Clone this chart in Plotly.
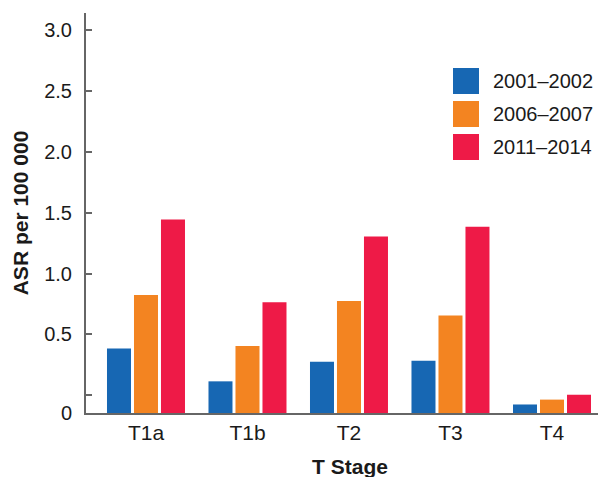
import plotly.graph_objects as go

# ---- data ----
stages = ["T1a", "T1b", "T2", "T3", "T4"]
series_names = ["2001\u20132002", "2006\u20132007", "2011\u20132014"]
asr_2001_2002 = [0.53, 0.26, 0.42, 0.43, 0.07]
asr_2006_2007 = [0.97, 0.55, 0.92, 0.80, 0.11]
asr_2011_2014 = [1.59, 0.91, 1.45, 1.53, 0.15]
series_values = [asr_2001_2002, asr_2006_2007, asr_2011_2014]
colors = ["#1767B3", "#F38421", "#EE1A47"]
tick_labels = ["0.5", "1.0", "1.5", "2.0", "2.5", "3.0"]

# page body has an 8px margin, so figure coords = screen coords - 8
W, H = 606, 477
ML, MR, MT, MB = 78, 0, 5, 72
PW, PH = W - ML - MR, H - MT - MB
Y_TOP = 3.285
OFFSET = 0.145  # shift of the labelled scale above the baseline (as in the original)

fig = go.Figure()
for name, vals, col in zip(series_names, series_values, colors):
    fig.add_trace(go.Bar(x=stages, y=vals, name=name, marker=dict(color=col, line=dict(width=0)),
                         showlegend=False))

tickvals = [0, OFFSET] + [OFFSET + 0.5 * (i + 1) for i in range(len(tick_labels))]
ticktext = ["0", ""] + tick_labels

font = "Liberation Sans, Arial, Helvetica, sans-serif"

fig.update_layout(
    width=W, height=H,
    margin=dict(l=ML, r=MR, t=MT, b=MB, autoexpand=False),
    paper_bgcolor="white", plot_bgcolor="white",
    barmode="group", bargap=0.202, bargroupgap=0.111,
    font=dict(family=font, size=20, color="#1a1a1a"),
    xaxis=dict(range=[-0.591, 4.611], showline=True, linecolor="#666666", linewidth=2,
               ticks="", showgrid=False, zeroline=False, tickfont=dict(size=21),
               title=dict(text="<b>T Stage</b>", font=dict(size=21), standoff=16)),
    yaxis=dict(range=[0, Y_TOP], showline=True, linecolor="#666666", linewidth=2,
               tickmode="array", tickvals=tickvals, ticktext=ticktext,
               ticks="inside", ticklen=6, tickcolor="#666666", tickwidth=1.5,
               ticklabelstandoff=8,
               showgrid=False, zeroline=False, tickfont=dict(size=20),
               title=dict(text="<b>ASR per 100 000</b>", font=dict(size=21), standoff=10)),
)

# custom legend with large swatches (positions given in screen pixels)
def px_to_paper(px, py):
    return (px - 8 - ML) / PW, (H - MB - (py - 8)) / PH

for i, (name, col) in enumerate(zip(series_names, colors)):
    top = 68 + 33 * i
    x0, y0 = px_to_paper(453, top + 26)
    x1, y1 = px_to_paper(479, top)
    fig.add_shape(type="rect", xref="paper", yref="paper", x0=x0, y0=y0, x1=x1, y1=y1,
                  fillcolor=col, line=dict(width=0))
    tx, ty = px_to_paper(491, top + 13)
    fig.add_annotation(xref="paper", yref="paper", x=tx, y=ty, text=name, showarrow=False,
                       xanchor="left", yanchor="middle", font=dict(size=20, color="#1a1a1a"))

fig.write_html("out.html")
